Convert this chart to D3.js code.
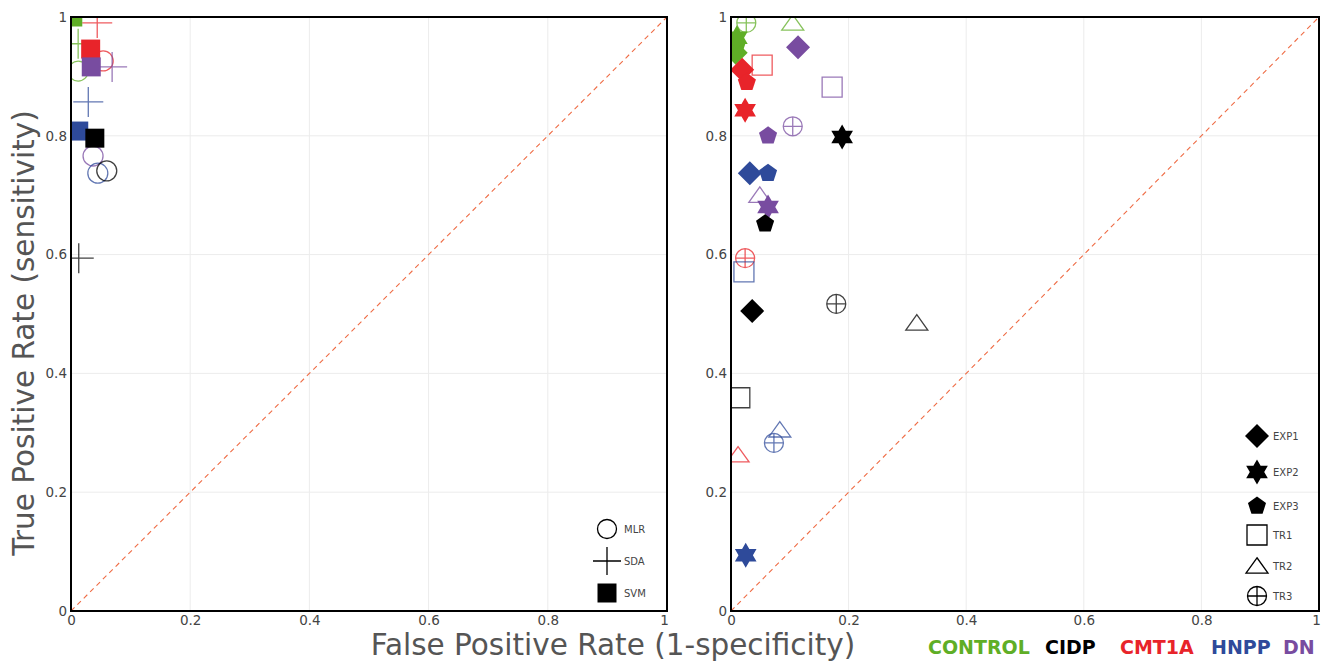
<!DOCTYPE html>
<html>
<head>
<meta charset="utf-8">
<script src="https://cdn.jsdelivr.net/npm/d3@7"></script>
<style>
  body { margin: 0; background: #fff; }
  svg { display: block; font-family: 'DejaVu Sans', Verdana, sans-serif; }
  .tick text { fill: #444; font-size: 13.5px; }
  .grid line { stroke: #ececec; }
</style>
</head>
<body>
<svg id="chart" width="1323" height="663"></svg>
<script>
// groups and colours
const groups = ['CONTROL', 'CIDP', 'CMT1A', 'HNPP', 'DN']
const groupColors = ['#5fae26', '#000000', '#e8242a', '#2e4a9a', '#784ca0']

const ticks = [0, 0.2, 0.4, 0.6, 0.8, 1]
const tickLabels = ['0', '0.2', '0.4', '0.6', '0.8', '1']

// left panel: classifier results
const leftMethods = ['MLR', 'SDA', 'SVM']
const leftGroup = ['CONTROL', 'CMT1A', 'DN', 'HNPP', 'CIDP',
  'CONTROL', 'CMT1A', 'DN', 'HNPP', 'CIDP',
  'CONTROL', 'CMT1A', 'DN', 'HNPP', 'CIDP']
const leftMethod = ['MLR', 'MLR', 'MLR', 'MLR', 'MLR',
  'SDA', 'SDA', 'SDA', 'SDA', 'SDA',
  'SVM', 'SVM', 'SVM', 'SVM', 'SVM']
const leftFpr = [0.012, 0.054, 0.037, 0.045, 0.060,
  0.012, 0.044, 0.069, 0.029, 0.013,
  0.003, 0.033, 0.034, 0.013, 0.040]
const leftTpr = [0.909, 0.926, 0.766, 0.737, 0.741,
  0.955, 0.990, 0.916, 0.857, 0.594,
  1.000, 0.946, 0.916, 0.808, 0.796]

// right panel: feature sets
const rightMethods = ['EXP1', 'EXP2', 'EXP3', 'TR1', 'TR2', 'TR3']
const rightGroup = ['CONTROL', 'CONTROL', 'CONTROL', 'CONTROL', 'CONTROL',
  'CMT1A', 'CMT1A', 'CMT1A', 'CMT1A', 'CMT1A', 'CMT1A',
  'DN', 'DN', 'DN', 'DN', 'DN', 'DN',
  'HNPP', 'HNPP', 'HNPP', 'HNPP', 'HNPP', 'HNPP',
  'CIDP', 'CIDP', 'CIDP', 'CIDP', 'CIDP', 'CIDP']
const rightMethod = ['TR3', 'TR2', 'EXP3', 'EXP1', 'EXP2',
  'TR1', 'EXP1', 'EXP3', 'EXP2', 'TR3', 'TR2',
  'EXP1', 'TR1', 'TR3', 'EXP3', 'TR2', 'EXP2',
  'EXP1', 'EXP3', 'TR1', 'TR2', 'TR3', 'EXP2',
  'EXP2', 'EXP3', 'EXP1', 'TR3', 'TR2', 'TR1']
const rightFpr = [0.026, 0.105, 0.009, 0.008, 0.010,
  0.053, 0.019, 0.027, 0.024, 0.024, 0.012,
  0.114, 0.172, 0.105, 0.063, 0.049, 0.063,
  0.032, 0.063, 0.022, 0.083, 0.073, 0.025,
  0.189, 0.058, 0.036, 0.179, 0.316, 0.015]
const rightTpr = [0.990, 0.990, 0.950, 0.940, 0.965,
  0.919, 0.911, 0.890, 0.843, 0.594, 0.263,
  0.949, 0.882, 0.816, 0.800, 0.700, 0.680,
  0.737, 0.737, 0.571, 0.305, 0.283, 0.094,
  0.798, 0.652, 0.505, 0.517, 0.485, 0.359]

const svg = d3.select('#chart')
const color = d3.scaleOrdinal().domain(groups).range(groupColors)

// marker shapes, r = half size in px
const shapes = {
  circle: r => `M${r},0A${r},${r} 0 1,1 ${-r},0A${r},${r} 0 1,1 ${r},0Z`,
  cross: r => `M${-r},0L${r},0M0,${-r}L0,${r}`,
  square: r => `M${-r},${-r}H${r}V${r}H${-r}Z`,
  diamond: r => `M0,${-r}L${r},0L0,${r}L${-r},0Z`,
  star: r => {
    let d = ''
    for (let i = 0; i < 12; i++) {
      const a = -Math.PI / 2 + i * Math.PI / 6
      const rr = i % 2 ? r * 0.577 : r
      d += (i ? 'L' : 'M') + (rr * Math.cos(a)).toFixed(2) + ',' + (rr * Math.sin(a)).toFixed(2)
    }
    return d + 'Z'
  },
  pentagon: r => {
    let d = ''
    for (let i = 0; i < 5; i++) {
      const a = -Math.PI / 2 + i * 2 * Math.PI / 5
      d += (i ? 'L' : 'M') + (r * Math.cos(a)).toFixed(2) + ',' + (r * Math.sin(a)).toFixed(2)
    }
    return d + 'Z'
  },
  triangle: r => `M0,${-r * 0.75}L${r},${r * 0.65}L${-r},${r * 0.65}Z`,
  circleCross: r => `M${r},0A${r},${r} 0 1,1 ${-r},0A${r},${r} 0 1,1 ${r},0ZM${-r},0H${r}M0,${-r}V${r}`
}

const leftStyle = {
  MLR: { shape: 'circle', r: 10, fill: false },
  SDA: { shape: 'cross', r: 15, fill: false },
  SVM: { shape: 'square', r: 9.5, fill: true }
}
const rightStyle = {
  EXP1: { shape: 'diamond', r: 12, fill: true },
  EXP2: { shape: 'star', r: 12.5, fill: true },
  EXP3: { shape: 'pentagon', r: 9.5, fill: true },
  TR1: { shape: 'square', r: 10, fill: false },
  TR2: { shape: 'triangle', r: 11, fill: false },
  TR3: { shape: 'circleCross', r: 9.5, fill: false }
}

function drawMarker(sel, st, col) {
  sel.append('path')
    .attr('d', shapes[st.shape](st.r))
    .attr('fill', st.fill ? col : 'none')
    .attr('stroke', st.fill ? 'none' : col)
    .attr('stroke-opacity', 0.75)
    .attr('stroke-width', 1.3)
}

function panel(id, left, right, top, bottom, fpr, tpr, grp, meth, styles) {
  const x = d3.scaleLinear().domain([0, 1]).range([left, right])
  const y = d3.scaleLinear().domain([0, 1]).range([bottom, top])
  const g = svg.append('g')

  g.append('clipPath').attr('id', 'clip' + id)
    .append('rect').attr('x', left).attr('y', top)
    .attr('width', right - left).attr('height', bottom - top)

  // grid
  const grid = g.append('g').attr('class', 'grid')
  grid.selectAll('.gx').data(ticks.slice(1, -1)).join('line')
    .attr('x1', d => x(d)).attr('x2', d => x(d)).attr('y1', top).attr('y2', bottom)
  grid.selectAll('.gy').data(ticks.slice(1, -1)).join('line')
    .attr('y1', d => y(d)).attr('y2', d => y(d)).attr('x1', left).attr('x2', right)

  // diagonal
  g.append('line')
    .attr('x1', x(0)).attr('y1', y(0)).attr('x2', x(1)).attr('y2', y(1))
    .attr('stroke', '#ef6c45').attr('stroke-width', 1.1).attr('stroke-dasharray', '5,4')

  const xAxis = d3.axisBottom(x).tickValues(ticks).tickFormat((d, i) => tickLabels[i]).tickSize(0).tickPadding(4)
  const yAxis = d3.axisLeft(y).tickValues(ticks).tickFormat((d, i) => tickLabels[i]).tickSize(0).tickPadding(4)
  const xa = g.append('g').attr('transform', `translate(0,${bottom})`).call(xAxis)
    .call(a => a.select('.domain').remove())
  xa.select('.tick:last-child text').attr('dx', '-3')
  g.append('g').attr('transform', `translate(${left},0)`).call(yAxis)
    .call(a => a.select('.domain').remove())
  g.selectAll('.tick text').attr('font-family', 'DejaVu Sans')

  const pts = g.append('g').attr('clip-path', `url(#clip${id})`)
  fpr.forEach((v, i) => {
    const m = pts.append('g').attr('transform', `translate(${x(v)},${y(tpr[i])})`)
    drawMarker(m, styles[meth[i]], color(grp[i]))
  })

  g.append('rect').attr('x', left).attr('y', top)
    .attr('width', right - left).attr('height', bottom - top)
    .attr('fill', 'none').attr('stroke', '#000').attr('stroke-width', 2)
  return { x, y, g }
}

const L = panel('L', 71, 667, 17, 611, leftFpr, leftTpr, leftGroup, leftMethod, leftStyle)
const R = panel('R', 731, 1319, 17, 611, rightFpr, rightTpr, rightGroup, rightMethod, rightStyle)

// left legend
const legL = L.g.append('g')
leftMethods.forEach((m, i) => {
  const row = legL.append('g').attr('transform', `translate(607,${529 + i * 32})`)
  drawMarker(row, Object.assign({}, leftStyle[m], { r: m === 'SDA' ? 14 : 9.5 }), '#000')
  row.select('path').attr('stroke-opacity', 1)
  row.append('text').attr('x', 17).attr('y', 4).attr('font-size', 10).attr('fill', '#444').text(m)
})

// right legend
const legY = [436, 472, 506, 535, 566, 596]
const legR = R.g.append('g')
rightMethods.forEach((m, i) => {
  const row = legR.append('g').attr('transform', `translate(1257,${legY[i]})`)
  drawMarker(row, rightStyle[m], '#000')
  row.select('path').attr('stroke-opacity', 1)
  row.append('text').attr('x', 16).attr('y', 4).attr('font-size', 10).attr('fill', '#444').text(m)
})

// axis titles
svg.append('text')
  .attr('x', 613).attr('y', 655).attr('text-anchor', 'middle')
  .attr('font-size', 29.5).attr('fill', '#555')
  .text('False Positive Rate (1-specificity)')
svg.append('text')
  .attr('transform', 'translate(34,333) rotate(-90)').attr('text-anchor', 'middle')
  .attr('font-size', 29.5).attr('fill', '#555')
  .text('True Positive Rate (sensitivity)')

// group colour key
const keyX = [928, 1045, 1120, 1211, 1283]
groups.forEach((gname, i) => {
  svg.append('text')
    .attr('x', keyX[i]).attr('y', 654)
    .attr('font-size', 19).attr('font-weight', 'bold')
    .attr('fill', groupColors[i])
    .text(gname)
})
</script>
</body>
</html>
